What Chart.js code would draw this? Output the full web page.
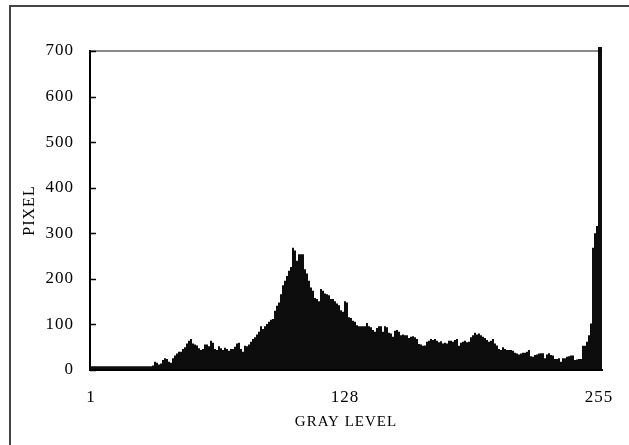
<!DOCTYPE html>
<html>
<head>
<meta charset="utf-8">
<script src="https://cdn.jsdelivr.net/npm/chart.js@4.4.1/dist/chart.umd.min.js"></script>
<style>
  html, body { margin: 0; padding: 0; background: #fff; }
  #wrap { position: relative; width: 629px; height: 445px; overflow: hidden; }
  #frame { position: absolute; left: 9px; top: 5px; width: 700px; height: 500px; border-top: 2px solid #444; border-left: 2px solid #444; }
  #histChart { position: absolute; left: 0; top: 0; }
</style>
</head>
<body>
<div id="wrap">
  <div id="frame"></div>
  <canvas id="histChart" width="629" height="445"></canvas>
</div>
<script>
// gray levels 1..256
const grayLevels = [];
for (let i = 1; i <= 256; i++) grayLevels.push(String(i));

const xTickLabels = ['1', '128', '255'];
const yTicks = [0, 100, 200, 300, 400, 500, 600, 700];

const pixelCounts = [
    8, 8, 8, 8, 8, 8, 8, 8, 8, 8,           // 1-10
    8, 8, 8, 8, 8, 8, 8, 8, 8, 8,           // 11-20
    8, 8, 8, 8, 8, 8, 8, 8, 8, 8,           // 21-30
    8, 10, 18, 16, 12, 14, 22, 26, 24, 18,  // 31-40
    16, 26, 32, 36, 40, 40, 46, 50, 58, 64, // 41-50
    68, 58, 56, 54, 48, 44, 46, 56, 56, 52, // 51-60
    64, 60, 46, 44, 52, 48, 44, 49, 46, 42, // 61-70
    46, 46, 51, 58, 60, 46, 40, 53, 52, 56, // 71-80
    62, 68, 72, 78, 84, 96, 90, 96, 101, 106,       // 81-90
    110, 112, 130, 141, 148, 166, 186, 196, 206, 218, // 91-100
    226, 268, 262, 240, 254, 254, 254, 221, 212, 196, // 101-110
    181, 174, 158, 156, 151, 178, 174, 168, 166, 164, // 111-120
    156, 156, 151, 146, 142, 131, 128, 151, 148, 116, // 121-130
    114, 108, 106, 98, 96, 96, 96, 96, 103, 96,       // 131-140
    94, 88, 84, 92, 96, 96, 84, 96, 94, 82,           // 141-150
    80, 73, 86, 88, 84, 76, 78, 76, 76, 70,           // 151-160
    73, 74, 72, 68, 57, 56, 53, 54, 62, 64,           // 161-170
    68, 66, 68, 64, 61, 63, 58, 60, 58, 64,           // 171-180
    64, 62, 66, 68, 53, 60, 62, 64, 61, 62,           // 181-190
    72, 76, 82, 78, 80, 76, 73, 70, 66, 62,           // 191-200
    64, 68, 58, 54, 46, 44, 50, 46, 44, 44,           // 201-210
    44, 42, 38, 36, 34, 36, 38, 38, 40, 44,           // 211-220
    30, 29, 33, 34, 36, 37, 37, 26, 34, 37,           // 221-230
    33, 32, 24, 24, 26, 18, 26, 26, 29, 30,           // 231-240
    32, 32, 22, 23, 24, 24, 53, 53, 62, 76,           // 241-250
    102, 268, 300, 316, 1200, 1200                    // 251-256
];

const serif = '"Liberation Serif", "DejaVu Serif", serif';

const innerTicks = {
    id: 'innerTicks',
    beforeDraw(chart) {
        chart.ctx.letterSpacing = '1px';
    },
    afterDraw(chart) {
        const ctx = chart.ctx;
        const y = chart.scales.y;
        ctx.save();
        ctx.strokeStyle = '#000';
        ctx.lineWidth = 1.5;
        yTicks.forEach(v => {
            const py = Math.round(y.getPixelForValue(v)) + 0.5;
            ctx.beginPath();
            ctx.moveTo(y.right, py);
            ctx.lineTo(y.right + 6, py);
            ctx.stroke();
        });
        ctx.restore();
    }
};

const ctx = document.getElementById('histChart').getContext('2d');
const histChart = new Chart(ctx, {
    type: 'bar',
    data: {
        labels: grayLevels,
        datasets: [{
            data: pixelCounts,
            backgroundColor: '#000',
            borderWidth: 0,
            barPercentage: 0.95,
            categoryPercentage: 1,
            clip: { top: 4, left: 0, right: 0, bottom: 0 }
        }]
    },
    options: {
        responsive: false,
        devicePixelRatio: 1,
        animation: false,
        layout: { padding: { left: 0, right: 27, top: 51, bottom: 0 } },
        plugins: { legend: { display: false }, tooltip: { enabled: false } },
        scales: {
            x: {
                grid: { display: false, drawTicks: false },
                border: { color: '#000', width: 2 },
                ticks: {
                    autoSkip: false, maxRotation: 0, minRotation: 0, padding: 17,
                    color: '#000', font: { family: serif, size: 17 },
                    callback: (v, i) => xTickLabels.includes(grayLevels[i]) ? grayLevels[i] : ''
                },
                title: { display: true, text: 'GRAY LEVEL', color: '#000', font: { family: serif, size: 15 }, padding: { top: 0, bottom: 14 } },
                afterFit: (s) => { s.height = 75; }
            },
            y: {
                min: 0, max: 700,
                grid: {
                    drawTicks: false,
                    lineWidth: 2,
                    color: (c) => c.tick && c.tick.value === 700 ? '#8a8a8a' : 'rgba(0,0,0,0)'
                },
                border: { color: '#000', width: 2 },
                ticks: { stepSize: 100, padding: 16, color: '#000', font: { family: serif, size: 17 } },
                title: { display: true, text: 'PIXEL', color: '#000', font: { family: serif, size: 16 }, padding: { top: 20, bottom: 0 } },
                afterFit: (s) => { s.width = 90; }
            }
        }
    },
    plugins: [innerTicks]
});
</script>
</body>
</html>
